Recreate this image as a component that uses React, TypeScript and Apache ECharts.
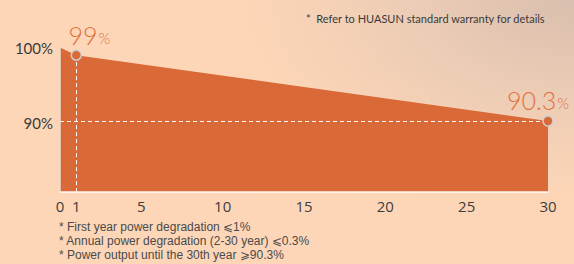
import React, { useEffect, useRef } from "react";
import * as echarts from "echarts";

const years = [0, 1, 30];
const power = [100, 99, 90.3];
const markedYears = [1, 30];
const markedPower = [99, 90.3];
const markedLabels = ["99", "90.3"];
const xTickLabels = [0, 1, 5, 10, 15, 20, 25, 30];
const yTickLabels = [90, 100];
const noteTop = "*  Refer to HUASUN standard warranty for details";
const notesBottom = [
  "* First year power degradation \u2A7D1%",
  "* Annual power degradation (2-30 year) \u2A7D0.3%",
  "* Power output until the 30th year \u2A7E90.3%",
];

const ORANGE = "#d96a38";
const LABEL_ORANGE = "#e0713f";

export default function App() {
  const ref = useRef<HTMLDivElement>(null);
  useEffect(() => {
    document.body.style.margin = "0";
    const chart = echarts.init(ref.current!, null, { renderer: "svg" });
    const areaData = years.map((y, i) => [y, power[i]]);
    const pointData = markedYears.map((y, i) => ({
      value: [y, markedPower[i]],
      label: {
        show: true,
        position: "top",
        distance: i === 0 ? 2 : 3,
        offset: i === 0 ? [13, 0] : [-10, 0],
        formatter: "{a|" + markedLabels[i] + "}{b|%}",
        rich: {
          a: { fontSize: 25, color: LABEL_ORANGE, fontFamily: "Lato", fontWeight: 300 },
          b: { fontSize: 15, color: LABEL_ORANGE, fontFamily: "Lato", fontWeight: 300, padding: [6, 0, 0, 1] },
        },
      },
    }));
    chart.setOption({
      animation: false,
      grid: { left: 60, right: 26, top: 40, bottom: 72.5 },
      xAxis: {
        type: "value",
        min: 0,
        max: 30,
        interval: 5,
        axisLine: { show: true, lineStyle: { color: "#ffffff", width: 1.5 } },
        axisTick: { show: false },
        splitLine: { show: false },
        axisLabel: {
          customValues: xTickLabels,
          color: "#3d3d3d",
          fontSize: 15,
          fontFamily: "Open Sans",
          margin: 7,
        },
      },
      yAxis: {
        type: "value",
        min: 81,
        max: 101,
        axisLine: { show: false },
        axisTick: { show: false },
        splitLine: { show: false },
        axisLabel: {
          customValues: yTickLabels,
          formatter: "{value}%",
          color: "#3a3a3a",
          fontSize: 15,
          fontFamily: "Lato",
          margin: 7,
          padding: [6, 0, 0, 0],
        },
      },
      series: [
        {
          type: "line",
          data: areaData,
          showSymbol: false,
          lineStyle: { width: 0 },
          areaStyle: { color: ORANGE, opacity: 1, origin: "start" },
          z: 1,
          markLine: {
            silent: true,
            symbol: "none",
            label: { show: false },
            data: [
              [
                { coord: [markedYears[0], markedPower[0]], lineStyle: { color: "#ffffff", type: [4, 3], width: 1 } },
                { coord: [markedYears[0], 81] },
              ],
              [
                { coord: [0, markedPower[1]], lineStyle: { color: "#ffffff", type: [4, 3], width: 1 } },
                { coord: [30, markedPower[1]] },
              ],
              [
                { coord: [0, power[0]], lineStyle: { color: "#e6dcd6", type: "solid", width: 1.5 } },
                { coord: [0, 81] },
              ],
            ],
          },
        },
        {
          type: "scatter",
          data: pointData,
          symbol: "circle",
          symbolSize: 10,
          itemStyle: { color: ORANGE, borderColor: "#cfcfcf", borderWidth: 1.5, opacity: 1 },
          z: 5,
        },
      ],
      graphic: [
        {
          type: "text",
          left: 306,
          top: 13,
          style: { text: noteTop, fontSize: 11, fontFamily: "Lato", fill: "#3a3a3a" },
        },
        ...notesBottom.map((t, i) => ({
          type: "text",
          left: 59,
          top: 221 + i * 14,
          style: { text: t, fontSize: 12, fontFamily: "Liberation Sans", fill: "#4a4a4a" },
        })),
      ],
    });
    return () => chart.dispose();
  }, []);
  return (
    <div
      ref={ref}
      style={{
        width: 574,
        height: 264,
        background:
          "radial-gradient(ellipse 70% 90% at 100% 0%, #d9bfae 0%, #ecccb5 40%, #fcd5b7 80%, #fdd6b8 100%)",
      }}
    />
  );
}
